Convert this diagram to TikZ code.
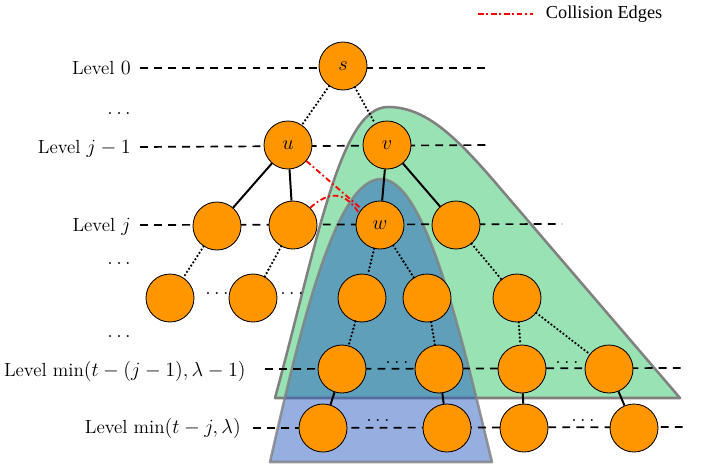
\documentclass[tikz,border=0pt]{standalone}
\usepackage{amsmath,amssymb}
\usepackage{fontspec}
\newfontfamily\legendfont{Liberation Serif}
\usetikzlibrary{arrows.meta,calc,positioning}
\definecolor{nodeorange}{RGB}{255,150,0}
\definecolor{greenfill}{RGB}{152,226,180}
\definecolor{bluefill}{RGB}{35,87,191}

\begin{document}
\begin{tikzpicture}[x=0.025cm,y=-0.025cm,
  vert/.style={circle,draw=black,fill=nodeorange,minimum size=1.2cm,inner sep=0pt,line width=0.6pt,font=\fontsize{13.5}{16}\selectfont},
  lvl/.style={anchor=base east,inner sep=0pt,font=\fontsize{13.5}{16}\selectfont},
  gap/.style={anchor=base,inner sep=0pt,font=\fontsize{13.5}{16}\selectfont},
  lvlline/.style={line width=1.2pt,dash pattern=on 5.6pt off 4.4pt},
  tree/.style={line width=1.4pt},
  dotline/.style={line width=1.8pt,dash pattern=on 0pt off 2.7pt,line cap=round},
  collision/.style={red,line width=1.3pt,dash pattern=on 4pt off 2pt on 1.2pt off 2pt},
  region/.style={draw=gray,line width=1.8pt,line join=round}]
  \useasboundingbox (0,0) rectangle (702,468);

  \filldraw[region,fill=greenfill] (275,398) .. controls (318,240) and (340,107) .. (388,107)
    .. controls (425,107) and (455,135) .. (500,188) -- (680,398) -- cycle;
  \path[region,fill=bluefill,fill opacity=0.48,draw opacity=0.8] (270,462) .. controls (300,330) and (335,179) .. (381,179)
    .. controls (425,179) and (460,330) .. (492,462) -- cycle;

  \coordinate (s0) at (140,68);   \coordinate (e0) at (488,68);
  \coordinate (s1) at (140,147);  \coordinate (e1) at (488,145);
  \coordinate (s2) at (140,225);  \coordinate (e2) at (562,224);
  \coordinate (s3) at (265,369);  \coordinate (e3) at (683,368);
  \coordinate (s4) at (253,428);  \coordinate (e4) at (683,427);
  \draw[lvlline] (s0) -- (e0);
  \draw[lvlline] (s1) -- (e1);
  \draw[lvlline] (s2) -- (e2);
  \draw[lvlline] (s3) -- (e3);
  \draw[lvlline] (s4) -- (e4);

  \node[lvl] (l0) at (131,74.5) {Level $0$};
  \node[lvl] (l1) at (131,153) {Level $j-1$};
  \node[lvl] (l2) at (131,231.5) {Level $j$};
  \node[lvl] (l3) at (246,376) {Level $\min(t-(j-1),\lambda-1)$};
  \node[lvl] (l4) at (241,433) {Level $\min(t-j,\lambda)$};
  \node[lvl] (d0) at (131,114) {$\ldots$};
  \node[lvl] (d1) at (131,264) {$\ldots$};
  \node[lvl] (d2) at (131,337) {$\ldots$};

  \node[vert] (s) at (343,66) {$s$};
  \node[vert] (u) at (288,145) {$u$};
  \node[vert] (v) at (387,145) {$v$};
  \node[vert] (n2a) at (217,226) {};
  \node[vert] (n2b) at (293,225) {};
  \node[vert] (w) at (380,225) {$w$};
  \node[vert] (n2d) at (456,225) {};
  \node[vert] (n3a) at (170,298) {};
  \node[vert] (n3b) at (253,298) {};
  \node[vert] (n3c) at (362,298) {};
  \node[vert] (n3d) at (427,298) {};
  \node[vert] (n3e) at (517,298) {};
  \node[vert] (n4a) at (342,369) {};
  \node[vert] (n4b) at (439,369) {};
  \node[vert] (n4c) at (522,369) {};
  \node[vert] (n4d) at (609,369) {};
  \node[vert] (n5a) at (323,428) {};
  \node[vert] (n5b) at (447,428) {};
  \node[vert] (n5c) at (524,428) {};
  \node[vert] (n5d) at (634,428) {};

  \draw[dotline] (s) -- (u);
  \draw[dotline] (s) -- (v);
  \draw[tree] (u) -- (n2a);
  \draw[tree] (u) -- (n2b);
  \draw[tree] (v) -- (w);
  \draw[tree] (v) -- (n2d);
  \draw[dotline] (n2a) -- (n3a);
  \draw[dotline] (n2b) -- (n3b);
  \draw[dotline] (w) -- (n3c);
  \draw[dotline] (w) -- (n3d);
  \draw[dotline] (n2d) -- (n3e);
  \draw[dotline] (n3c) -- (n4a);
  \draw[dotline] (n3d) -- (n4b);
  \draw[dotline] (n3e) -- (n4c);
  \draw[dotline] (n3e) -- (n4d);
  \draw[tree] (n4a) -- (n5a);
  \draw[tree] (n4b) -- (n5b);
  \draw[tree] (n4c) -- (n5c);
  \draw[tree] (n4d) -- (n5d);

  \node[gap] (g1) at (217,294) {$\ldots$};
  \node[gap] (g2) at (292,294) {$\ldots$};
  \node[gap] (g3) at (397,363.5) {$\ldots$};
  \node[gap] (g4) at (567,363.5) {$\ldots$};
  \node[gap] (g5) at (378,421.5) {$\ldots$};
  \node[gap] (g6) at (583,421.5) {$\ldots$};

  \draw[collision] (u) -- (w);
  \draw[collision] (n2b.45) .. controls (330,190) and (345,192) .. (w.150);

  \coordinate (c1) at (478,14);
  \node[anchor=west,inner xsep=9pt,inner ysep=0pt,font=\legendfont\fontsize{13}{15}\selectfont] (leg) at (533,14) {Collision Edges};
  \draw[collision] (c1) -- (leg.west);
\end{tikzpicture}
\end{document}
